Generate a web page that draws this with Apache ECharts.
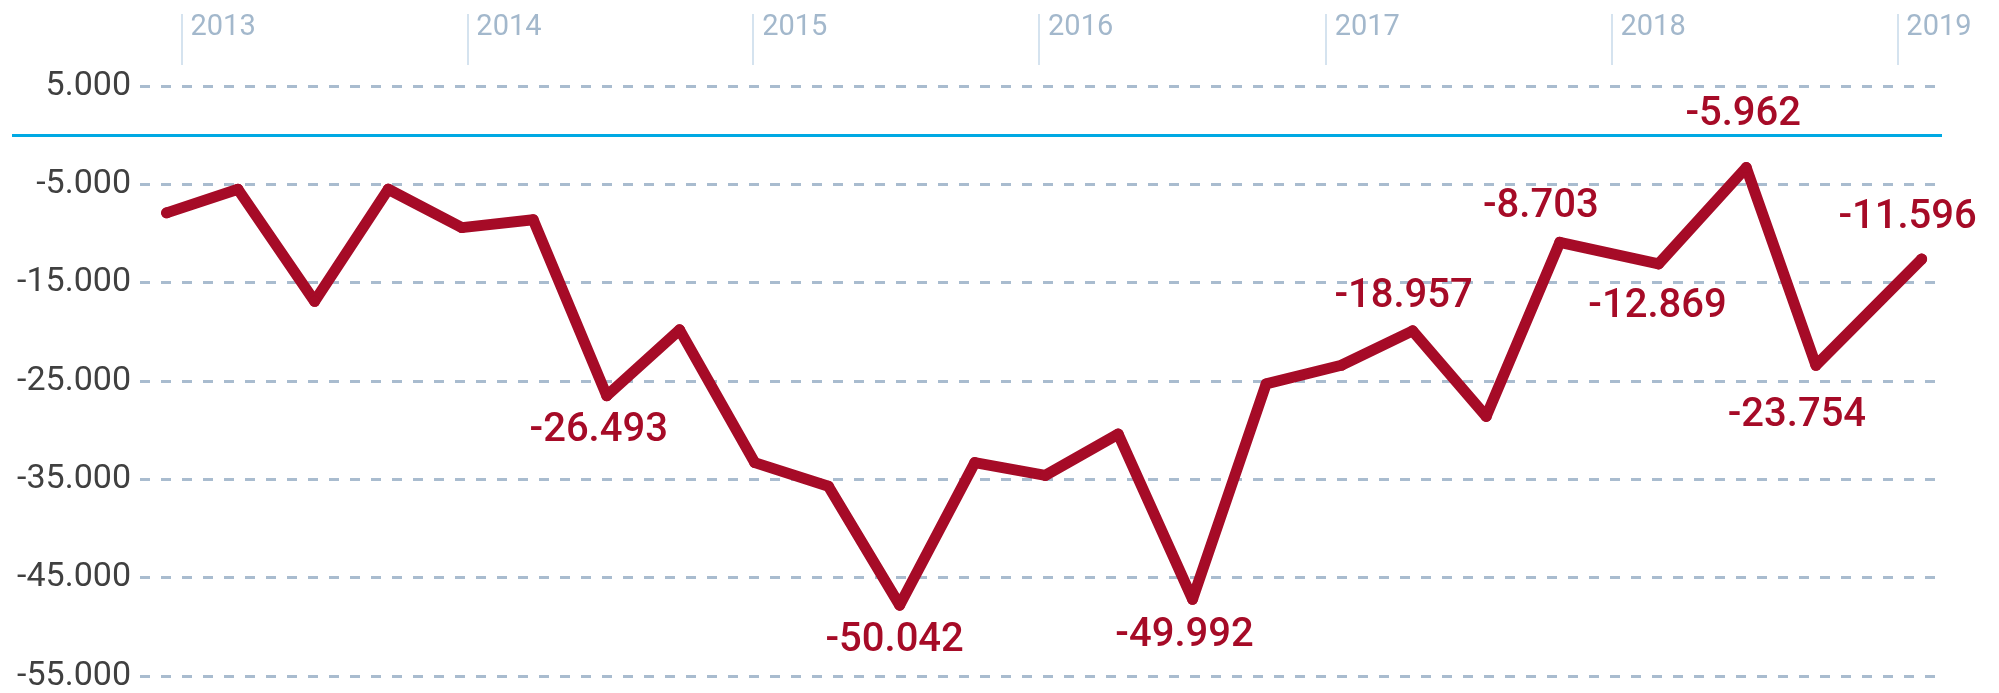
<!DOCTYPE html>
<html>
<head>
<meta charset="utf-8">
<title>Saldo</title>
<script src="https://cdn.jsdelivr.net/npm/echarts@6/dist/echarts.min.js"></script>
<style>
    html, body { margin: 0; padding: 0; background: #fff; }
    #main { width: 1999px; height: 693px; }
</style>
</head>
<body>
<div id="main"></div>
<script>
// Werte
let dates = ['2012-12-13', '2013-03-14', '2013-06-20', '2013-09-22', '2013-12-25', '2014-03-26',
    '2014-06-28', '2014-09-29', '2015-01-03', '2015-04-07', '2015-07-07', '2015-10-11',
    '2016-01-09', '2016-04-11', '2016-07-15', '2016-10-17', '2017-01-21', '2017-04-22',
    '2017-07-25', '2017-10-27', '2018-03-02', '2018-06-22', '2018-09-19', '2019-02-01'];
let values = [-7900, -5500, -16900, -5500, -9400, -8600, -26500, -19800, -33300, -35700, -47800, -33300,
    -34600, -30400, -47200, -25300, -23400, -19900, -28600, -10900, -13100, -3300, -23400, -12600];
let valueLabels = ['', '', '', '', '', '', '-26.493', '', '', '', '-50.042', '',
    '', '', '-49.992', '', '', '-18.957', '', '-8.703', '-12.869', '-5.962', '-23.754', '-11.596'];
let years = ['2013', '2014', '2015', '2016', '2017', '2018', '2019'];
let yLabels = [5000, -5000, -15000, -25000, -35000, -45000, -55000];

// Lage der Beschriftungen relativ zum Punkt
let labelOffsets = [null, null, null, null, null, null, [-8, 35], null, null, null, [-5, 36], null,
    null, null, [-8, 37], null, null, [-9, -34], null, [-19, -35], [-1, 43], [-3, -53], [-19, 51], [-14, -41]];

let red = '#a60b27';

function fmt(v) {
    let s = Math.abs(v).toString().replace(/\B(?=(\d{3})+(?!\d))/g, '.');
    return (v < 0 ? '-' : '') + s;
}

function ts(d) {
    return new Date(d).getTime();
}

let xMin = ts('2012-11-09');
let xMax = ts('2019-02-27');
let yearTicks = years.map(y => ts(y + '-01-01'));

let lineData = dates.map((d, i) => {
    let item = { value: [ts(d), values[i]] };
    if (valueLabels[i]) {
        item.label = { show: true, formatter: valueLabels[i], offset: labelOffsets[i] };
    }
    return item;
});

let myChart = echarts.init(document.getElementById('main'));

let option = {
    animation: false,
    textStyle: { fontFamily: 'Roboto' },
    grid: [
        { left: 140, right: 57, top: 86, bottom: 13 },
        { left: 12, right: 57, top: 86, bottom: 13 }
    ],
    xAxis: [
        {
            type: 'value',
            gridIndex: 0,
            min: xMin,
            max: xMax,
            show: false
        },
        {
            type: 'value',
            gridIndex: 0,
            position: 'top',
            min: xMin,
            max: xMax,
            offset: 21,
            axisLine: { show: false },
            axisTick: {
                show: true,
                length: 51,
                customValues: yearTicks,
                lineStyle: { color: '#d5e3ef', width: 2 }
            },
            axisLabel: {
                customValues: yearTicks,
                formatter: function(v) {
                    return String(new Date(v).getUTCFullYear());
                },
                color: '#a3b8cc',
                fontSize: 29,
                fontFamily: 'Roboto',
                align: 'left',
                padding: [0, 0, 0, 9],
                margin: 23
            },
            splitLine: { show: false }
        },
        { type: 'value', gridIndex: 1, show: false, min: 0, max: 1 }
    ],
    yAxis: [
        {
            type: 'value',
            gridIndex: 0,
            min: -55000,
            max: 5000,
            interval: 5000,
            axisLine: { show: false },
            axisTick: { show: false },
            axisLabel: {
                formatter: function(v) {
                    return yLabels.indexOf(v) >= 0 ? fmt(v) : '';
                },
                color: '#404040',
                fontSize: 34,
                fontFamily: 'Roboto',
                margin: 9
            },
            splitLine: {
                show: true,
                lineStyle: { color: ['#a9bccf', 'rgba(0,0,0,0)'], width: 3, type: [10, 11] }
            }
        },
        { type: 'value', gridIndex: 1, show: false, min: -55000, max: 5000 }
    ],
    series: [
        {
            type: 'line',
            xAxisIndex: 2,
            yAxisIndex: 1,
            data: [],
            markLine: {
                silent: true,
                symbol: 'none',
                label: { show: false },
                lineStyle: { color: '#00a9e3', width: 3, type: 'solid' },
                data: [{ yAxis: 0 }]
            }
        },
        {
            type: 'line',
            xAxisIndex: 0,
            yAxisIndex: 0,
            data: lineData,
            symbol: 'circle',
            symbolSize: 11,
            showAllSymbol: true,
            itemStyle: { color: red },
            lineStyle: { color: red, width: 11, cap: 'round', join: 'round' },
            label: {
                show: false,
                position: 'inside',
                color: red,
                fontSize: 40,
                fontWeight: 500,
                fontFamily: 'Roboto'
            },
            z: 3
        }
    ]
};

myChart.setOption(option);
</script>
</body>
</html>
